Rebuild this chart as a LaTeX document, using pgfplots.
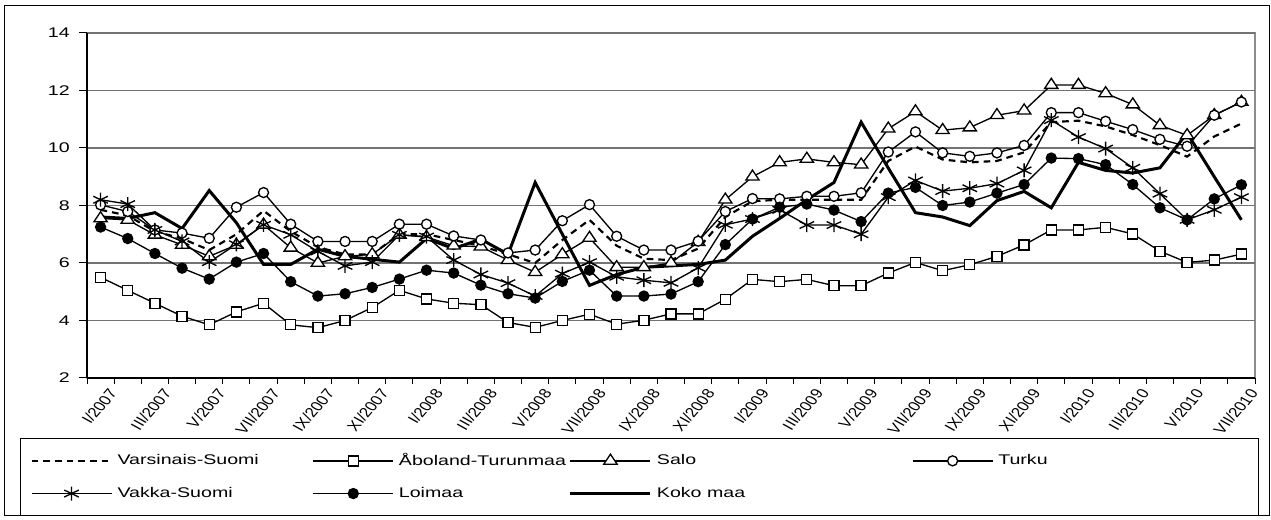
\documentclass[border=0pt]{standalone}
\usepackage{fontspec}
\setmainfont{Liberation Sans}[FakeStretch=1.4]
\newfontfamily\tickfont{Liberation Sans}
\usepackage{pgfplots}
\usepackage{pgfplotstable}
\pgfplotsset{compat=1.18}

% monthly figures I/2007 .. VII/2010 (43 months)
\pgfplotstableread{
i  VS    AT   SA    TU    VA    LO   KM
0  7.85  5.50 7.55  8.02  8.20  7.25 7.60
1  7.65  5.05 7.50  7.79  8.05  6.85 7.55
2  7.10  4.60 6.98  7.15  7.15  6.33 7.75
3  6.85  4.15 6.63  7.04  6.75  5.82 7.20
4  6.45  3.85 6.23  6.86  6.03  5.44 8.52
5  7.00  4.30 6.63  7.94  6.65  6.03 7.40
6  7.82  4.60 7.33  8.45  7.33  6.33 5.95
7  7.10  3.85 6.53  7.35  6.98  5.35 5.95
8  6.55  3.75 6.00  6.75  6.40  4.85 6.48
9  6.30  4.00 6.23  6.75  5.90  4.93 6.23
10 6.30  4.45 6.30  6.75  6.03  5.15 6.13
11 7.00  5.05 6.98  7.35  6.98  5.44 6.03
12 7.00  4.75 6.90  7.35  6.92  5.75 6.85
13 6.80  4.60 6.60  6.94  6.10  5.65 6.50
14 6.60  4.55 6.57  6.80  5.60  5.23 6.83
15 6.30  3.93 6.10  6.35  5.30  4.93 6.30
16 6.00  3.76 5.68  6.45  4.85  4.78 8.80
17 6.80  4.00 6.30  7.47  5.63  5.36 7.00
18 7.50  4.22 6.87  8.03  6.03  5.75 5.22
19 6.60  3.87 5.85  6.93  5.52  4.85 5.60
20 6.15  4.01 5.85  6.45  5.40  4.85 5.85
21 6.10  4.23 6.00  6.45  5.31  4.92 5.90
22 6.50  4.23 6.73  6.76  5.83  5.35 5.95
23 7.60  4.74 8.20  7.79  7.33  6.64 6.10
24 8.15  5.43 9.00  8.24  7.53  7.53 6.93
25 8.20  5.35 9.50  8.23  7.85  7.94 7.55
26 8.20  5.43 9.62  8.32  7.32  8.05 8.20
27 8.20  5.21 9.50  8.32  7.32  7.84 8.80
28 8.20  5.21 9.42  8.44  7.00  7.44 10.90
29 9.55  5.65 10.67 9.86  8.29  8.43 9.30
30 10.05 6.02 11.27 10.56 8.87  8.63 7.75
31 9.60  5.73 10.62 9.83  8.50  8.00 7.60
32 9.50  5.94 10.71 9.71  8.60  8.12 7.30
33 9.55  6.23 11.14 9.83  8.76  8.43 8.17
34 9.85  6.63 11.30 10.09 9.22  8.73 8.49
35 10.90 7.15 12.19 11.23 10.97 9.65 7.92
36 10.95 7.15 12.19 11.23 10.38 9.63 9.50
37 10.75 7.24 11.90 10.93 9.98  9.42 9.22
38 10.45 7.01 11.51 10.64 9.31  8.73 9.13
39 10.10 6.41 10.79 10.30 8.41  7.92 9.31
40 9.70  6.02 10.44 10.06 7.50  7.50 10.52
41 10.40 6.10 11.14 11.14 7.85  8.23 9.00
42 10.85 6.31 11.60 11.60 8.29  8.72 7.50
}\datatable

\begin{document}
\begin{tikzpicture}[font=\fontsize{8.4}{10}\selectfont]
\useasboundingbox (-52.2pt,-85.2pt) rectangle (710.4pt,226.8pt);
\draw[black, line width=0.6pt] (-49.2pt,-82.8pt) rectangle (709.2pt,223.2pt);
\begin{axis}[
    at={(0,0)}, anchor=south west,
    scale only axis,
    width=700.8pt, height=207pt,
    xmin=-0.5, xmax=42.5,
    ymin=2, ymax=14,
    ytick={2,4,...,14},
    xtick={0,2,...,42},
    xticklabels={I/2007,III/2007,V/2007,VII/2007,IX/2007,XI/2007,
                 I/2008,III/2008,V/2008,VII/2008,IX/2008,XI/2008,
                 I/2009,III/2009,V/2009,VII/2009,IX/2009,XI/2009,
                 I/2010,III/2010,V/2010,VII/2010},
    minor xtick={-0.5,0.5,...,42.5},
    major x tick style={draw=none},
    minor tick length=3.6pt,
    major tick length=4.8pt,
    tick align=outside,
    tick style={black, line width=0.6pt},
    axis x line*=bottom,
    axis y line*=left,
    axis line style={black, line width=0.8pt},
    axis background/.style={draw=gray!90, line width=0.8pt},
    ymajorgrids=true,
    grid style={gray!90!black, line width=0.7pt},
    /pgf/number format/assume math mode=true,
    yticklabel style={anchor=east, xshift=-2pt},
    xticklabel style={font=\tickfont\fontsize{8.2}{9}\selectfont,
        xscale=1.25, rotate=55, anchor=north east, xshift=4.5pt, yshift=0pt},
    every axis plot/.append style={black, line width=0.8pt},
    mark options={solid, xscale=1.3},
    legend image code/.code={\draw[mark repeat=2,mark phase=2]
        plot coordinates {(0pt,0pt) (24pt,0pt) (48pt,0pt)};},
    legend columns=4,
    legend cell align=left,
    legend style={at={(axis description cs:-0.0574,-0.1739)},
        anchor=north west, draw=black, line width=0.6pt,
        inner xsep=6pt, inner ysep=9pt,
        row sep=11pt, column sep=0pt,
        /tikz/every odd column/.append style={column sep=3pt},
        nodes={inner sep=0pt}},
]
\addplot[line width=1.3pt, dash pattern=on 4pt off 3pt] table[x=i,y=VS] {\datatable};
\addlegendentry{\makebox[117pt][l]{Varsinais-Suomi}}
\addplot[mark=square*, mark size=3pt, mark options={fill=white}] table[x=i,y=AT] {\datatable};
\addlegendentry{\makebox[102pt][l]{Åboland-Turunmaa}}
\addplot[mark=triangle*, mark size=4pt, mark options={fill=white, xscale=1.15}] table[x=i,y=SA] {\datatable};
\addlegendentry{\makebox[153pt][l]{Salo}}
\addplot[mark=*, mark size=3pt, mark options={fill=white}] table[x=i,y=TU] {\datatable};
\addlegendentry{\makebox[150pt][l]{Turku}}
\addplot[mark=asterisk, mark size=4.2pt, mark options={xscale=1.2}] table[x=i,y=VA] {\datatable};
\addlegendentry{\makebox[117pt][l]{Vakka-Suomi}}
\addplot[mark=*, mark size=3pt, mark options={fill=black}] table[x=i,y=LO] {\datatable};
\addlegendentry{\makebox[102pt][l]{Loimaa}}
\addplot[line width=1.8pt] table[x=i,y=KM] {\datatable};
\addlegendentry{\makebox[153pt][l]{Koko maa}}
\end{axis}
\end{tikzpicture}
\end{document}
